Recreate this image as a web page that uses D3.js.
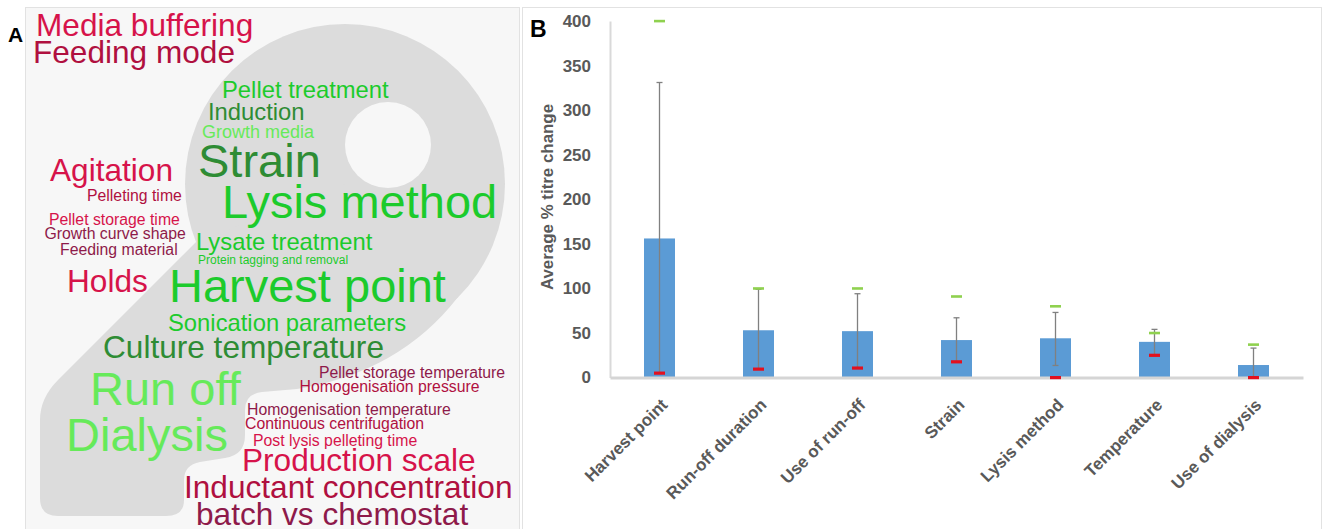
<!DOCTYPE html>
<html>
<head>
<meta charset="utf-8">
<script src="https://cdn.jsdelivr.net/npm/d3@7"></script>
<style>
  body { margin: 0; background: #fff; }
  svg { display: block; }
  .cloud text { font-family: "Liberation Sans", Arial, sans-serif; }
  .chart text { font-family: "Liberation Sans", Arial, sans-serif; font-weight: bold; fill: #595959; }
</style>
</head>
<body>
<div id="fig"></div>
<script>
// ---- panel A: word cloud ----
let cloudWords = ["Media buffering", "Feeding mode", "Pellet treatment", "Induction", "Growth media",
  "Strain", "Agitation", "Pelleting time", "Lysis method", "Pellet storage time",
  "Growth curve shape", "Feeding material", "Lysate treatment", "Protein tagging and removal", "Holds",
  "Harvest point", "Sonication parameters", "Culture temperature", "Run off", "Dialysis",
  "Pellet storage temperature", "Homogenisation pressure", "Homogenisation temperature",
  "Continuous centrifugation", "Post lysis pelleting time", "Production scale",
  "Inductant concentration", "batch vs chemostat"];
// relative weight of each word (1 = least frequent)
let cloudWeights = [5, 5, 4, 4, 3, 6, 5, 2, 6, 2, 2, 2, 4, 1, 5, 6, 4, 5, 6, 6, 2, 2, 2, 2, 2, 5, 5, 5];
// g = green group, r = red group, number = shade
let cloudTones = ["r1", "r2", "g1", "g2", "g3", "g2", "r1", "r2", "g1", "r1",
  "r3", "r3", "g1", "g1", "r1", "g1", "g1", "g2", "g3", "g3",
  "r3", "r2", "r3", "r2", "r1", "r1", "r2", "r3"];
// layout slots from the cloud placement (panel units, left / baseline)
let cloudSlots = [[11, 28.5], [8, 55.5], [197, 91], [183, 113], [177, 131], [173, 170], [25, 174], [62, 194],
  [197, 211], [24, 217.5], [19.5, 232], [35, 248], [171, 243], [173, 256.5], [42, 285], [144, 295],
  [143, 324], [78, 351], [65, 398], [41, 444], [294, 370.5], [274.5, 385], [222, 408], [220, 422],
  [228, 439], [217, 464], [159, 491], [171, 518]];

// ---- panel B: bar chart ----
let factors = ["Harvest point", "Run-off duration", "Use of run-off", "Strain", "Lysis method", "Temperature", "Use of dialysis"];
let meanChange = [156, 53, 52, 42, 44, 40, 14];
let errLow = [5, 9.5, 10.7, 17.7, 13.5, 25, 0];
let errHigh = [331, 99, 94, 67, 73, 54, 33];
let maxChange = [400, 100, 100, 91, 80, 50, 37];
let minChange = [5, 9.5, 10.7, 17.7, 0, 25, 0];
let yTicks = [0, 50, 100, 150, 200, 250, 300, 350, 400];

let width = 1323, height = 529;

let svg = d3.select("#fig").append("svg")
  .attr("width", width)
  .attr("height", height);

// panel boxes
svg.append("rect")
  .attr("x", 25.5).attr("y", 7.5).attr("width", 494).attr("height", 530)
  .attr("fill", "#f7f7f7").attr("stroke", "#e2e2e2");
svg.append("rect")
  .attr("x", 522.5).attr("y", 7.5).attr("width", 799).attr("height", 530)
  .attr("fill", "#fff").attr("stroke", "#e2e2e2");

// question mark backdrop
let qmark = svg.append("g").attr("fill", "#dcdcdc");
qmark.append("circle").attr("cx", 345).attr("cy", 184).attr("r", 160);
qmark.append("path")
  .attr("d", "M196,242 L58,380 Q40,398 40,420 L40,498 Q40,516 58,516 L166,516 Q184,516 184,500 " +
    "L184,480 Q184,465 200,462 L225,458 Q245,455 245,435 L245,410 Q245,394 262,392 L297,389 " +
    "Q400,372 458,297 L345,184 Z");
svg.append("circle").attr("cx", 388).attr("cy", 145).attr("r", 43).attr("fill", "#f7f7f7");

// cloud coordinates -> page
let cx = d3.scaleLinear().domain([0, 494]).range([25, 519]);
let cy = d3.scaleLinear().domain([0, 522]).range([7, 529]);
let fontSize = d3.scaleLinear().domain([1, 2, 3, 4, 5, 6]).range([12, 15.8, 18, 23.8, 31.6, 47]);
let toneColor = d3.scaleOrdinal()
  .domain(["g1", "g2", "g3", "r1", "r2", "r3"])
  .range(["#1ccb2c", "#2e8c34", "#66ea5a", "#d6134a", "#b0103f", "#8e1a4a"]);

let cloud = svg.append("g").attr("class", "cloud");
cloud.selectAll("text.word")
  .data(cloudWords)
  .enter().append("text")
  .attr("class", "word")
  .attr("x", function(d, i) { return cx(cloudSlots[i][0]); })
  .attr("y", function(d, i) { return cy(cloudSlots[i][1]); })
  .style("font-size", function(d, i) { return fontSize(cloudWeights[i]) + "px"; })
  .attr("fill", function(d, i) { return toneColor(cloudTones[i]); })
  .text(function(d) { return d; });

svg.append("text")
  .attr("x", 8).attr("y", 42)
  .style("font-family", "Liberation Sans, Arial, sans-serif")
  .style("font-weight", "bold").style("font-size", "21px")
  .text("A");

// ---- bar chart ----
let chart = svg.append("g").attr("class", "chart");

let x = d3.scaleBand()
  .domain(factors)
  .range([610, 1303])
  .paddingInner(0.687)
  .paddingOuter(0.3435);

let y = d3.scaleLinear().domain([0, 400]).range([377.5, 21]);

// bars
chart.selectAll("rect.bar")
  .data(factors)
  .enter().append("rect")
  .attr("class", "bar")
  .attr("x", function(d) { return x(d); })
  .attr("width", x.bandwidth())
  .attr("y", function(d, i) { return y(meanChange[i]); })
  .attr("height", function(d, i) { return y(0) - y(meanChange[i]); })
  .attr("fill", "#5b9bd5");

// y axis
let yAxis = chart.append("g")
  .attr("transform", "translate(610,0)")
  .call(d3.axisLeft(y).tickValues(yTicks).tickSize(0).tickPadding(19));
yAxis.select(".domain").attr("stroke", "#d9d9d9").attr("stroke-width", 2);
yAxis.selectAll("text").style("font-size", "17px").attr("fill", "#595959");

// x axis
let xAxis = chart.append("g")
  .attr("transform", "translate(0," + y(0) + ")")
  .call(d3.axisBottom(x).tickSize(0).tickFormat(""));
xAxis.select(".domain").attr("stroke", "#d5d5d5").attr("stroke-width", 3);

chart.selectAll("text.xlab")
  .data(factors)
  .enter().append("text")
  .attr("class", "xlab")
  .attr("text-anchor", "end")
  .attr("transform", function(d) {
    return "translate(" + (x(d) + x.bandwidth() / 2 + 9) + ",406) rotate(-45)";
  })
  .style("font-size", "17px")
  .text(function(d) { return d; });

// error bars
let ebar = chart.append("g").attr("stroke", "#808080").attr("stroke-width", 1.3);
factors.forEach(function(d, i) {
  let mx = x(d) + x.bandwidth() / 2;
  ebar.append("line").attr("x1", mx).attr("x2", mx)
    .attr("y1", y(errLow[i])).attr("y2", y(errHigh[i]));
  [errLow[i], errHigh[i]].forEach(function(v) {
    ebar.append("line").attr("x1", mx - 3).attr("x2", mx + 3)
      .attr("y1", y(v)).attr("y2", y(v));
  });
});

// max (green) and min (red) markers
chart.selectAll("rect.maxmark")
  .data(factors)
  .enter().append("rect")
  .attr("class", "maxmark")
  .attr("x", function(d) { return x(d) + x.bandwidth() / 2 - 5.5; })
  .attr("y", function(d, i) { return y(maxChange[i]) - 1.2; })
  .attr("width", 11).attr("height", 2.6)
  .attr("fill", "#8fd14f");

chart.selectAll("rect.minmark")
  .data(factors)
  .enter().append("rect")
  .attr("class", "minmark")
  .attr("x", function(d) { return x(d) + x.bandwidth() / 2 - 5.5; })
  .attr("y", function(d, i) { return y(minChange[i]) - 1.5; })
  .attr("width", 11).attr("height", 3.2)
  .attr("fill", "#e3101e");

// axis title
chart.append("text")
  .attr("text-anchor", "middle")
  .attr("transform", "translate(553,197) rotate(-90)")
  .style("font-size", "16.9px")
  .text("Average % titre change");

svg.append("text")
  .attr("x", 530).attr("y", 37)
  .style("font-family", "Liberation Sans, Arial, sans-serif")
  .style("font-weight", "bold").style("font-size", "23px")
  .text("B");
</script>
</body>
</html>
